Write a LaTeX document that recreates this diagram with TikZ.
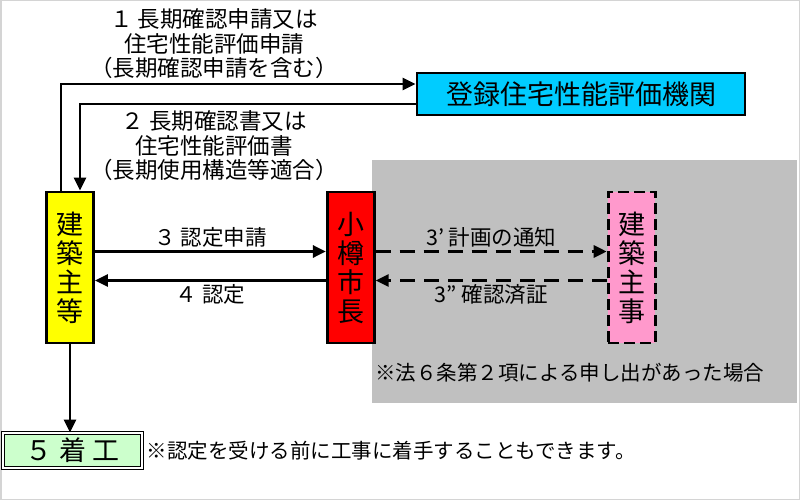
\documentclass[tikz,border=0pt]{standalone}
\usepackage{fontspec}
\setmainfont{Noto Sans CJK JP}
\usepackage{tikz}
\usetikzlibrary{calc}
\usetikzlibrary{positioning}
\usetikzlibrary{arrows.meta}
\definecolor{ownerfill}{HTML}{FFFF00}
\definecolor{mayorfill}{HTML}{FF0000}
\definecolor{inspfill}{HTML}{FF99CC}
\definecolor{agencyfill}{HTML}{00CCFF}
\definecolor{startfill}{HTML}{CCFFCC}
\definecolor{areagray}{HTML}{C0C0C0}
\definecolor{framegray}{HTML}{D4D4D4}
\tikzstyle{actor} = [draw, line width=2.8pt, minimum width=47pt, minimum height=151pt, inner sep=0pt, align=center, font=\fontsize{27}{29}\selectfont]
\tikzstyle{flow} = [line width=2.8pt]
\tikzstyle{optional} = [dash pattern=on 15pt off 9pt]
\tikzstyle{note} = [font=\fontsize{22.5}{24.5}\selectfont, align=center, inner sep=1pt]
\tikzstyle{steplabel} = [font=\fontsize{21.5}{24}\selectfont, inner sep=3pt]
\tikzstyle{remark} = [font=\fontsize{20.5}{24}\selectfont, inner sep=0pt, anchor=west]

\begin{document}
\begin{tikzpicture}[x=1pt, y=-1pt, >={Triangle[length=13pt, width=12pt]}]
  \useasboundingbox (0,0) rectangle (800,500);
  \fill[areagray] (372,160) rectangle (797,403);
  \draw[framegray, line width=1.5pt] (0.75,0.75) rectangle (799.25,499.25);

  \node[actor, fill=ownerfill] (owner) at (70,267.5) {建\\築\\主\\等};
  \node[actor, fill=mayorfill, right=231pt of owner] (mayor) {小\\樽\\市\\長};
  \node[actor, fill=inspfill, dash pattern=on 11pt off 5pt, right=231pt of mayor] (insp) {建\\築\\主\\事};
  \node[draw, line width=2.8pt, fill=agencyfill, minimum width=328pt, minimum height=42pt, font=\fontsize{27}{30}\selectfont] (agency) at (581,94) {登録住宅性能評価機関};
  \node[draw, line width=1pt, double, double distance=1.5pt, fill=startfill, minimum width=139pt, minimum height=35pt, font=\fontsize{27}{30}\selectfont] (start) at (72.5,450.5) {５ 着 工};

  \node[note] (req) at (214,44) {１ 長期確認申請又は\\住宅性能評価申請\\（長期確認申請を含む）};
  \node[note] (cert) at (214,146) {２ 長期確認書又は\\住宅性能評価書\\（長期使用構造等適合）};
  \node[remark] (cond) at (375,373) {※法６条第２項による申し出があった場合};
  \node[remark, right=4pt of start] (early) {※認定を受ける前に工事に着手することもできます。};

  \draw[flow, ->] ([xshift=-9pt]owner.north) |- ([yshift=10pt]agency.west);
  \draw[flow, ->] ([yshift=-10pt]agency.west) -| ([xshift=10pt]owner.north);
  \draw[flow, ->] ([yshift=16pt]owner.east) -- ([yshift=16pt]mayor.west) node[steplabel, midway, above] (l3) {３ 認定申請};
  \draw[flow, ->] ([yshift=-13pt]mayor.west) -- ([yshift=-13pt]owner.east) node[steplabel, midway, below] (l4) {４ 認定};
  \draw[flow, optional, ->] ([yshift=16pt]mayor.east) -- ([yshift=16pt]insp.west) node[steplabel, midway, above] (l3a) {3’ 計画の通知};
  \draw[flow, optional, ->] ([yshift=-13pt]insp.west) -- ([yshift=-13pt]mayor.east) node[steplabel, midway, below] (l3b) {3” 確認済証};
  \draw[flow, ->] (owner.south) -- (owner.south |- start.north);
\end{tikzpicture}
\end{document}
